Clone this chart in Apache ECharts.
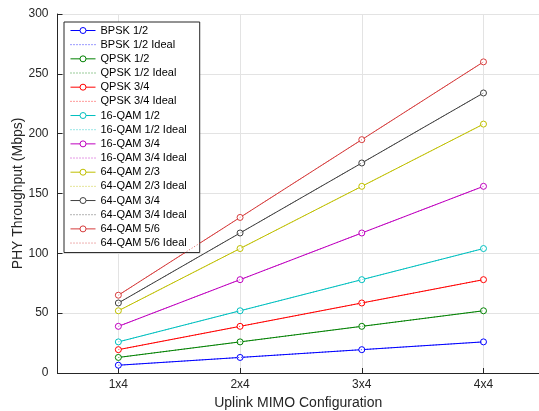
<!DOCTYPE html>
<html>
<head>
<meta charset="utf-8">
<script src="https://cdn.jsdelivr.net/npm/echarts@6/dist/echarts.min.js"></script>
<style>html,body{margin:0;padding:0;background:#fff}#c{width:539px;height:411px}</style>
</head>
<body>
<div id="c"></div>
<script>
const configs = ['1x4', '2x4', '3x4', '4x4'];
const xPos = [1, 2, 3, 4];
const yTicks = [0, 50, 100, 150, 200, 250, 300];

const bpsk12 = [6.5, 13, 19.5, 26];
const bpsk12Ideal = [6.5, 13, 19.5, 26];
const qpsk12 = [13, 26, 39, 52];
const qpsk12Ideal = [13, 26, 39, 52];
const qpsk34 = [19.5, 39, 58.5, 78];
const qpsk34Ideal = [19.5, 39, 58.5, 78];
const qam16_12 = [26, 52, 78, 104];
const qam16_12Ideal = [26, 52, 78, 104];
const qam16_34 = [39, 78, 117, 156];
const qam16_34Ideal = [39, 78, 117, 156];
const qam64_23 = [52, 104, 156, 208];
const qam64_23Ideal = [52, 104, 156, 208];
const qam64_34 = [58.5, 117, 175.5, 234];
const qam64_34Ideal = [58.5, 117, 175.5, 234];
const qam64_56 = [65, 130, 195, 260];
const qam64_56Ideal = [65, 130, 195, 260];

const groups = [
  ['BPSK 1/2', bpsk12, bpsk12Ideal, '#0000ff'],
  ['QPSK 1/2', qpsk12, qpsk12Ideal, '#008000'],
  ['QPSK 3/4', qpsk34, qpsk34Ideal, '#ff0000'],
  ['16-QAM 1/2', qam16_12, qam16_12Ideal, '#00bfbf'],
  ['16-QAM 3/4', qam16_34, qam16_34Ideal, '#bf00bf'],
  ['64-QAM 2/3', qam64_23, qam64_23Ideal, '#bfbf00'],
  ['64-QAM 3/4', qam64_34, qam64_34Ideal, '#404040'],
  ['64-QAM 5/6', qam64_56, qam64_56Ideal, '#d63c3c']
];

const font = '"Liberation Sans", Arial, Helvetica, sans-serif';
const series = [];
const legendData = [];
groups.forEach(g => {
  series.push({
    name: g[0], type: 'line',
    data: g[1].map((v, i) => [xPos[i], v]),
    symbol: 'circle', symbolSize: 6,
    lineStyle: { color: g[3], width: 1 },
    itemStyle: { color: '#ffffff', borderColor: g[3], borderWidth: 1 },
    emphasis: { disabled: true }, animation: false, z: 3
  });
  series.push({
    name: g[0] + ' Ideal', type: 'line',
    data: g[2].map((v, i) => [xPos[i], v]),
    symbol: 'none',
    lineStyle: { color: g[3], width: 1, type: [1, 2], opacity: 0.8 },
    itemStyle: { color: g[3] },
    emphasis: { disabled: true }, animation: false, z: 4
  });
  legendData.push({ name: g[0] });
  legendData.push({ name: g[0] + ' Ideal', itemStyle: { color: 'rgba(0,0,0,0)', borderColor: 'rgba(0,0,0,0)', borderWidth: 0 } });
});

const chart = echarts.init(document.getElementById('c'));
chart.setOption({
  animation: false,
  backgroundColor: '#fff',
  textStyle: { fontFamily: font },
  grid: { left: 57.5, right: 0, top: 14, bottom: 38, containLabel: false, outerBoundsMode: 'none' },
  legend: {
    orient: 'vertical', left: 64, top: 22,
    backgroundColor: '#fff', borderColor: '#262626', borderWidth: 1,
    padding: [3, 13, 4, 6],
    itemWidth: 25, itemHeight: 7.5, itemGap: 3.17,
    lineStyle: { width: 1 },
    itemStyle: { borderWidth: 1 },
    textStyle: { fontFamily: font, fontSize: 11, color: '#000' },
    data: legendData
  },
  xAxis: {
    type: 'value', min: 0.5, max: 4.456,
    name: 'Uplink MIMO Configuration', nameLocation: 'middle', nameGap: 23, nameMoveOverlap: false,
    nameTextStyle: { fontFamily: font, fontSize: 14, color: '#262626' },
    axisLine: { show: true, lineStyle: { color: '#262626', width: 1 } },
    axisTick: { show: true, inside: true, length: 5, customValues: xPos, lineStyle: { color: '#262626' } },
    axisLabel: { customValues: xPos, fontFamily: font, fontSize: 12, color: '#262626', margin: 6,
      formatter: v => configs[Math.round(v) - 1] || '' },
    splitLine: { show: true, lineStyle: { color: '#e3e3e3', width: 1 } }
  },
  yAxis: {
    type: 'value', min: 0, max: 300, interval: 50,
    name: 'PHY Throughput (Mbps)', nameLocation: 'middle', nameGap: 32, nameMoveOverlap: false,
    nameTextStyle: { fontFamily: font, fontSize: 14, color: '#262626' },
    axisLine: { show: true, lineStyle: { color: '#262626', width: 1 } },
    axisTick: { show: true, inside: true, length: 5, lineStyle: { color: '#262626' } },
    axisLabel: { fontFamily: font, fontSize: 12, color: '#262626', margin: 9,
      formatter: v => yTicks.indexOf(v) >= 0 ? String(v) : '' },
    splitLine: { show: true, lineStyle: { color: '#e3e3e3', width: 1 } }
  },
  series: series
});
</script>
</body>
</html>
